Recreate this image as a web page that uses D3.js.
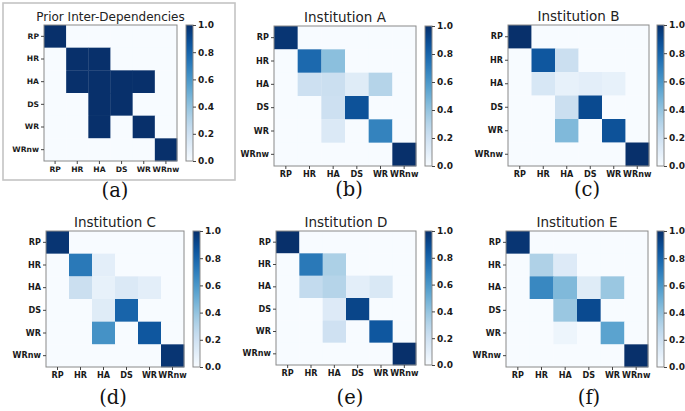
<!DOCTYPE html>
<html><head><meta charset="utf-8">
<script src="https://cdn.jsdelivr.net/npm/d3@7"></script>
<style>body{margin:0;background:#fff}svg{display:block}</style>
</head><body>
<script>
const labels = ["RP","HR","HA","DS","WR","WRnw"];
const titles = ["Prior Inter-Dependencies","Institution A","Institution B","Institution C","Institution D","Institution E"];
const captions = ["(a)","(b)","(c)","(d)","(e)","(f)"];
const cbTicks = [0.0,0.2,0.4,0.6,0.8,1.0];

const prior = [
 [1,0,0,0,0,0],
 [0,1,1,0,0,0],
 [0,1,1,1,1,0],
 [0,0,1,1,0,0],
 [0,0,1,0,1,0],
 [0,0,0,0,0,1]];
const instA = [
 [0.98,0,0,0,0,0],
 [0,0.78,0.42,0,0,0],
 [0,0.21,0.22,0.12,0.30,0],
 [0,0,0.21,0.87,0,0],
 [0,0,0.14,0,0.68,0],
 [0,0,0,0,0,1]];
const instB = [
 [1,0,0,0,0,0],
 [0,0.85,0.22,0,0,0],
 [0,0.16,0.08,0.10,0.08,0],
 [0,0,0.22,0.9,0,0],
 [0,0,0.45,0,0.87,0],
 [0,0,0,0,0,1]];
const instC = [
 [0.98,0,0,0,0,0],
 [0,0.72,0.10,0,0,0],
 [0,0.22,0.08,0.14,0.10,0],
 [0,0,0.12,0.80,0,0],
 [0,0,0.62,0,0.85,0],
 [0,0,0,0,0,0.98]];
const instD = [
 [1,0,0,0,0,0],
 [0,0.72,0.33,0,0,0],
 [0,0.25,0.30,0.10,0.15,0],
 [0,0,0.13,0.92,0,0],
 [0,0,0.20,0,0.85,0],
 [0,0,0,0,0,1]];
const instE = [
 [0.98,0,0,0,0,0],
 [0,0.32,0.13,0,0,0],
 [0,0.66,0.45,0.12,0.38,0],
 [0,0,0.38,0.9,0,0],
 [0,0,0.05,0,0.55,0],
 [0,0,0,0,0,1]];
const matrices = [prior,instA,instB,instC,instD,instE];

// layout (pixels)
const layout = [
 {x:44,y:25,w:133,h:136,cb:186,cap:[115,197],ts:12,fs:7.6},
 {x:274,y:26,w:142,h:140,cb:425,cap:[349,196],ts:13.5,fs:8.1},
 {x:508,y:25,w:141,h:141,cb:657,cap:[587,196],ts:13.5,fs:8.1},
 {x:46,y:231,w:138,h:136,cb:193,cap:[113,404],ts:13.5,fs:8.1},
 {x:276,y:231,w:140,h:134,cb:425,cap:[350,404],ts:13.5,fs:8.1},
 {x:506,y:231,w:142,h:136,cb:657,cap:[589,404],ts:13.5,fs:8.1}];

const W=685,H=411;
const svg = d3.select("body").append("svg").attr("width",W).attr("height",H);
svg.append("rect").attr("width",W).attr("height",H).attr("fill","#fff");

// gray box around (a)
svg.append("rect").attr("x",3).attr("y",3).attr("width",232).attr("height",177)
  .attr("fill","none").attr("stroke","#c4c4c4").attr("stroke-width",1.6);

const color = d3.scaleSequential(d3.interpolateBlues).domain([0,1]);
const tickFont = "DejaVu Sans";
const cfs = 9;

matrices.forEach((m,k)=>{
  const L = layout[k];
  const g = svg.append("g");
  const xs = d3.scaleBand().domain(labels).range([L.x,L.x+L.w]);
  const ys = d3.scaleBand().domain(labels).range([L.y,L.y+L.h]);
  labels.forEach((r,i)=>labels.forEach((c,j)=>{
    g.append("rect").attr("x",xs(c)).attr("y",ys(r))
      .attr("width",xs.bandwidth()+0.3).attr("height",ys.bandwidth()+0.3)
      .attr("fill",color(m[i][j]));
  }));
  g.append("rect").attr("x",L.x).attr("y",L.y).attr("width",L.w).attr("height",L.h)
    .attr("fill","none").attr("stroke","#8a8a8a").attr("stroke-width",1);

  const xa = g.append("g").attr("transform",`translate(0,${L.y+L.h})`)
    .call(d3.axisBottom(xs).tickSize(3).tickPadding(2.5));
  const ya = g.append("g").attr("transform",`translate(${L.x},0)`)
    .call(d3.axisLeft(ys).tickSize(3).tickPadding(2));
  [xa,ya].forEach(a=>{
    a.select(".domain").remove();
    a.selectAll("line").attr("stroke","#444");
    a.selectAll("text").attr("font-family",tickFont).attr("font-weight","bold")
      .attr("font-size",L.fs).attr("fill","#1a1a1a");
  });

  // title
  g.append("text").attr("x",L.x+L.w/2).attr("y",L.y-4).attr("text-anchor","middle")
    .attr("font-family","DejaVu Sans").attr("font-size",L.ts).attr("fill","#222").text(titles[k]);

  // colorbar
  const cbw=7;
  const cs = d3.scaleLinear().domain([0,1]).range([L.y+L.h,L.y]);
  const gid="grad"+k;
  const grad = svg.append("defs").append("linearGradient").attr("id",gid)
    .attr("x1",0).attr("y1",1).attr("x2",0).attr("y2",0);
  d3.range(0,1.0001,0.05).forEach(t=>grad.append("stop").attr("offset",t).attr("stop-color",color(t)));
  g.append("rect").attr("x",L.cb).attr("y",L.y).attr("width",cbw).attr("height",L.h)
    .attr("fill",`url(#${gid})`).attr("stroke","#8a8a8a").attr("stroke-width",1);
  const ca = g.append("g").attr("transform",`translate(${L.cb+cbw},0)`)
    .call(d3.axisRight(cs).tickValues(cbTicks).tickFormat(d3.format(".1f")).tickSize(3).tickPadding(2));
  ca.select(".domain").remove();
  ca.selectAll("line").attr("stroke","#444");
  ca.selectAll("text").attr("font-family",tickFont).attr("font-weight","bold")
    .attr("font-size",cfs).attr("fill","#1a1a1a");

  // caption
  svg.append("text").attr("x",L.cap[0]).attr("y",L.cap[1]).attr("text-anchor","middle")
    .attr("font-family","DejaVu Serif").attr("font-size",19.5).attr("fill","#111").text(captions[k]);
});
</script>
</body></html>
